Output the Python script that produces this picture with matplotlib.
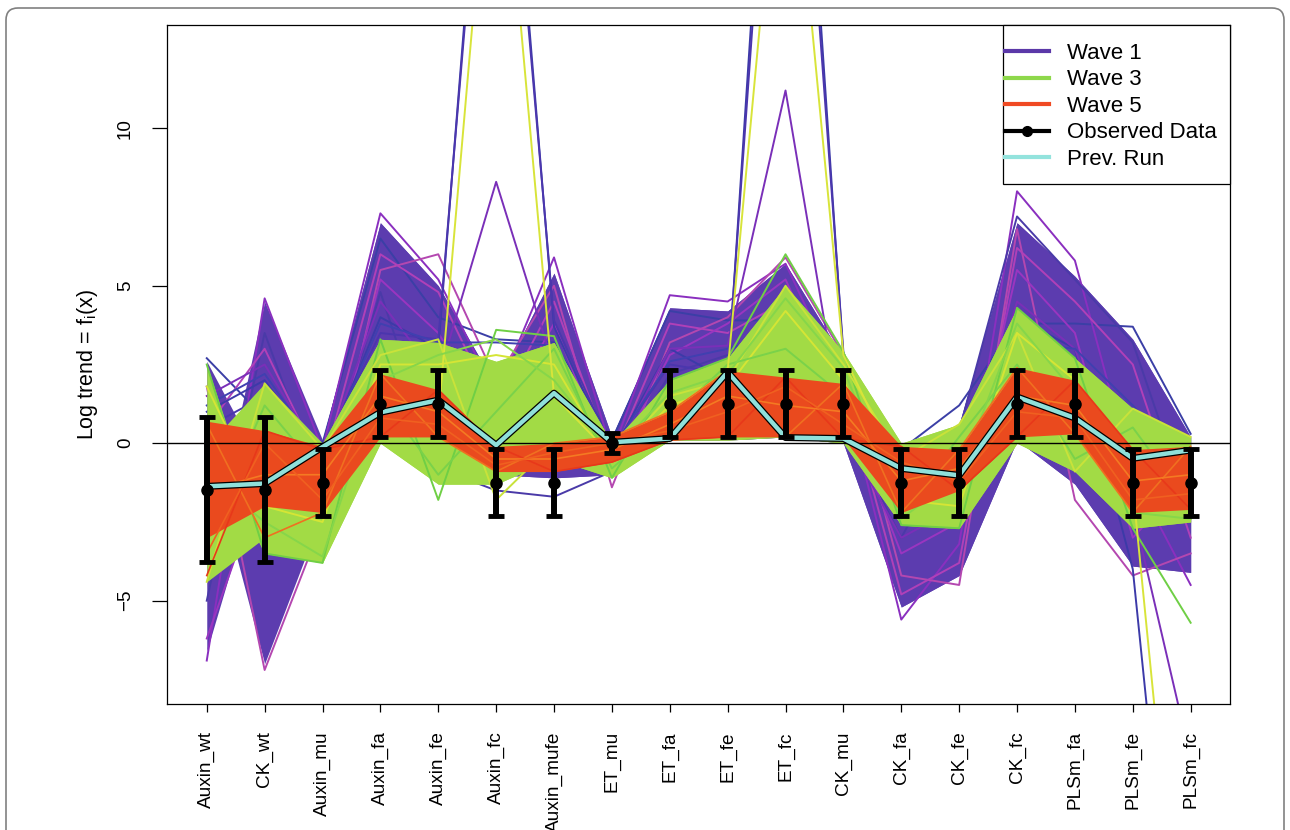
import numpy as np
import matplotlib
matplotlib.use('Agg')
import matplotlib.pyplot as plt
from matplotlib.lines import Line2D
from matplotlib.patches import FancyBboxPatch, Rectangle

plt.rcParams['font.family'] = ['Liberation Sans', 'DejaVu Sans']
plt.rcParams['mathtext.fontset'] = 'custom'
plt.rcParams['mathtext.rm'] = 'Liberation Sans'

# 输出类别
categories = ['Auxin_wt', 'CK_wt', 'Auxin_mu', 'Auxin_fa', 'Auxin_fe', 'Auxin_fc',
              'Auxin_mufe', 'ET_mu', 'ET_fa', 'ET_fe', 'ET_fc', 'CK_mu', 'CK_fa',
              'CK_fe', 'CK_fc', 'PLSm_fa', 'PLSm_fe', 'PLSm_fc']

# 观测数据及误差
obs_mean = [-1.47, -1.47, -1.25, 1.25, 1.25, -1.25, -1.25, 0.0, 1.25, 1.25,
            1.25, 1.25, -1.25, -1.25, 1.25, 1.25, -1.25, -1.25]
obs_err = [2.3, 2.3, 1.06, 1.06, 1.06, 1.06, 1.06, 0.32, 1.06, 1.06,
           1.06, 1.06, 1.06, 1.06, 1.06, 1.06, 1.06, 1.06]

# 上一次运行
prev_run = [-1.37, -1.28, -0.12, 0.98, 1.37, -0.06, 1.59, 0.03, 0.15, 2.26,
            0.18, 0.15, -0.8, -1.02, 1.47, 0.8, -0.48, -0.22]

# 各 wave 的密集区域（两组交叉的线束）
wave1_a_hi = [2.6, -0.85, 0.1, 7.0, 5.0, 1.8, 5.4, 0.2, 4.3, 4.2, 5.7, 2.7, -0.1, 0.6, 7.0, 5.3, 3.3, 0.2]
wave1_a_lo = [0.0, -7.0, -2.2, 0.1, -0.6, -1.0, -1.1, -1.0, 0.1, 0.1, 0.2, 0.0, -5.2, -4.2, 0.1, -1.3, -3.9, -4.1]
wave1_b_hi = [-3.9, 4.5, 0.1, 7.0, 5.0, 1.8, 5.4, 0.2, 4.3, 4.2, 5.7, 2.7, -0.1, 0.6, 7.0, 5.3, 3.3, 0.2]
wave1_b_lo = [-6.6, -0.4, -2.2, 0.1, -0.6, -1.0, -1.1, -1.0, 0.1, 0.1, 0.2, 0.0, -5.2, -4.2, 0.1, -1.3, -3.9, -4.1]

wave3_a_hi = [2.5, -3.1, 0.0, 3.3, 3.2, 2.6, 3.2, 0.0, 2.0, 2.7, 5.0, 2.9, 0.0, 0.6, 4.3, 2.7, 1.1, 0.2]
wave3_a_lo = [0.0, -3.5, -3.8, 0.0, -1.3, -1.3, -0.5, -1.1, 0.1, 0.1, 0.2, 0.0, -2.6, -2.7, 0.0, -0.9, -2.7, -2.5]
wave3_b_hi = [-0.1, 1.9, 0.0, 3.3, 3.2, 2.6, 3.2, 0.0, 2.0, 2.7, 5.0, 2.9, 0.0, 0.6, 4.3, 2.7, 1.1, 0.2]
wave3_b_lo = [-4.4, -3.0, -3.8, 0.0, -1.3, -1.3, -0.5, -1.1, 0.1, 0.1, 0.2, 0.0, -2.6, -2.7, 0.0, -0.9, -2.7, -2.5]

wave5_hi = [0.7, 0.4, -0.1, 2.2, 1.7, -0.1, 0.0, 0.2, 1.0, 2.3, 2.1, 1.9, -0.1, -0.2, 2.4, 2.0, -0.2, -0.1]
wave5_lo = [-3.0, -2.0, -2.2, 0.2, 0.2, -0.9, -0.9, -0.6, 0.1, 0.2, 0.2, 0.15, -2.2, -1.5, 0.2, 0.3, -2.2, -2.1]

# 单独可见的线
wave1_lines = [
    [2.7, 0.8, 0.0, 6.5, 4.0, 3.3, 3.2, 0.1, 4.2, 3.9, 3.9, 2.7, -0.2, 1.2, 3.8, 3.8, 3.7, 0.3],
    [-6.9, 4.6, -0.2, 7.3, 5.2, 1.5, 5.9, -0.3, 4.7, 4.5, 5.7, 1.8, -5.6, -3.2, 8.0, 5.8, -1.0, -4.5],
    [1.8, -7.2, -2.5, 5.5, 6.0, 2.0, 5.0, -1.4, 3.2, 4.0, 5.9, 2.8, -4.2, -4.5, 6.8, -1.8, -4.2, -3.5],
    [-5.0, 3.5, -1.5, 4.8, -0.8, -1.5, -1.7, -0.9, 2.2, 2.8, 3.0, 0.6, -3.0, 0.4, 7.2, 5.2, 3.2, -2.2],
    [0.5, 3.0, -0.8, 6.0, 4.8, 1.0, 4.5, -0.5, 3.8, 3.5, 4.5, 2.0, -4.8, -3.8, 6.2, 4.5, 2.5, -3.0],
    [-6.2, -1.0, -1.8, 5.2, 3.5, 0.5, 3.8, -0.8, 2.8, 3.8, 5.2, 1.2, -3.5, -2.5, 5.5, 3.5, -3.0, -1.0],
    [1.0, 2.0, -0.5, 4.0, 3.0, 26.0, 3.7, -0.3, 3.0, 2.0, 30.0, 2.7, -2.0, -1.5, 4.0, 3.0, -4.0, -22.0],
    [0.5, 1.5, -0.3, 3.5, 3.3, 25.0, 3.9, -0.2, 2.5, 2.2, 28.0, 2.9, -2.5, -2.0, 3.5, 2.5, 0.5, -1.5],
    [1.5, 2.5, -0.5, 4.5, 2.1, 8.3, 2.4, -0.5, 3.0, 3.1, 11.2, 0.3, -3.0, -2.0, 4.5, 3.0, -2.1, -10.0],
    [1.2, 2.2, -0.4, 3.8, 3.2, 3.2, 3.1, -0.2, 2.6, 3.0, 3.5, 1.6, -2.2, -1.8, 3.2, 3.0, 1.2, -0.8],
]
wave1_colors = ['#3b3fa6', '#8a2fbf', '#b447b0', '#4a3aa8', '#b040b8', '#9a35c0',
                '#3c3aa8', '#4b36ad', '#7a2fb8', '#4040b0']

wave3_lines = [
    [2.5, -3.5, -3.8, 3.3, -1.8, 3.6, 3.4, -1.1, 2.0, 2.7, 6.0, 2.9, -2.6, -2.7, 4.3, 2.7, -2.7, -5.7],
    [-4.4, 1.9, -0.2, 2.8, 3.3, -1.8, 0.0, -0.5, 1.5, 2.0, 5.0, 2.5, -0.5, 0.6, 3.5, -0.9, 1.1, 0.2],
    [1.8, -2.0, -2.5, 2.5, 2.5, 2.8, 2.5, -0.6, 1.2, 1.8, 4.2, 2.0, -1.8, -2.0, 3.5, 2.0, -1.8, -1.5],
    [-3.0, 1.2, -1.0, 1.5, -1.0, 1.0, 3.0, -0.8, 0.8, 2.5, 3.0, 1.5, -2.2, 0.2, 2.5, -0.5, 0.5, -2.0],
    [0.0, -1.0, -1.5, 1.5, 0.8, 22.0, 1.5, -0.4, 1.0, 2.3, 22.0, 2.8, -1.0, -1.5, 2.0, 1.0, -1.4, -20.0],
    [-1.0, -2.5, -3.6, 2.0, 2.8, 3.3, 2.0, -0.3, 1.6, 2.2, 4.6, 2.4, -2.4, -1.0, 3.8, 1.6, -2.2, -2.4],
]
wave3_colors = ['#6fcf45', '#c9e23a', '#d5e535', '#7ad24a', '#d8e43a', '#86d64a']

wave5_lines = [
    [0.6, -3.0, -2.2, 2.2, 0.2, -0.9, 0.0, 0.2, 1.0, 2.3, 0.2, 1.9, -2.2, -0.2, 2.4, 0.3, -2.2, -0.1],
    [-4.2, 0.4, -0.2, 0.2, 1.7, -0.1, -0.9, -0.6, 0.1, 0.2, 2.1, 0.15, -0.1, -1.5, 0.2, 2.0, -0.2, -2.1],
    [-1.5, -1.0, -1.0, 1.5, 1.0, -0.5, -0.5, -0.2, 0.6, 1.5, 1.2, 1.0, -1.2, -0.8, 1.5, 1.2, -1.2, -1.0],
    [-3.5, 0.0, -1.8, 0.8, 0.6, -0.7, -0.3, 0.0, 0.4, 1.0, 1.8, 0.6, -0.6, -1.2, 1.0, 0.8, -1.8, -1.6],
]
wave5_colors = ['#f07020', '#e8381a', '#f47a22', '#f06020']

x = np.arange(1, len(categories) + 1)

fig = plt.figure(figsize=(12.9, 8.3), dpi=100)
ax = fig.add_axes([0.1295, 0.1518, 0.8240, 0.8181])

# wave 1
for lo, hi in [(wave1_a_lo, wave1_a_hi), (wave1_b_lo, wave1_b_hi)]:
    ax.fill_between(x, lo, hi, color='#5c3caf', lw=0, zorder=1)
for vals, c in zip(wave1_lines, wave1_colors):
    ax.plot(x, vals, color=c, lw=1.4, zorder=1.2)
# wave 3
for lo, hi in [(wave3_a_lo, wave3_a_hi), (wave3_b_lo, wave3_b_hi)]:
    ax.fill_between(x, lo, hi, color='#a2db45', lw=0, zorder=2)
for vals, c in zip(wave3_lines, wave3_colors):
    ax.plot(x, vals, color=c, lw=1.4, zorder=2.2)
# wave 5
ax.fill_between(x, wave5_lo, wave5_hi, color='#ea4a1e', lw=0, zorder=3)
for vals, c in zip(wave5_lines, wave5_colors):
    ax.plot(x, vals, color=c, lw=1.2, zorder=3.2)

ax.axhline(0, color='black', lw=1.0, zorder=4)

# prev run
ax.plot(x, prev_run, color='black', lw=5.0, zorder=5, solid_capstyle='butt')
ax.plot(x, prev_run, color='#8fe0da', lw=3.2, zorder=5.1, solid_capstyle='butt')

# observed
ax.errorbar(x, obs_mean, yerr=obs_err, fmt='o', color='black', ms=8,
            elinewidth=4.3, capsize=5.5, capthick=3.5, zorder=6)

ax.set_xlim(0.314, 18.68)
ax.set_ylim(-8.28, 13.28)
ax.set_xticks(x)
ax.set_xticklabels(categories, rotation=90, fontsize=13.7)
ax.set_yticks([-5, 0, 5, 10])
ax.set_yticklabels(['\u22125', '0', '5', '10'], rotation=90, va='center', fontsize=13.5)
ax.tick_params(axis='y', length=10.8, width=0.9, pad=13)
ax.tick_params(axis='x', length=5.6, width=0.9, pad=14)
for s in ax.spines.values():
    s.set_linewidth(0.9)

ax.set_ylabel(r'Log trend = f$_\mathregular{i}$(x)', fontsize=15.5, labelpad=12)

handles = [
    Line2D([], [], color='#5b38a8', lw=3),
    Line2D([], [], color='#8ed84b', lw=3),
    Line2D([], [], color='#f04a23', lw=3),
    Line2D([], [], color='black', lw=3, marker='o', ms=7),
    Line2D([], [], color='#93e3dd', lw=3),
]
labels = ['Wave 1', 'Wave 3', 'Wave 5', 'Observed Data', 'Prev. Run']
leg = fig.legend(handles, labels, loc='upper left',
                 bbox_to_anchor=(1005 / 1290, 1 - 43 / 830), fontsize=16,
                 frameon=False, handlelength=2.0, handletextpad=0.8,
                 labelspacing=0.245, borderpad=0, borderaxespad=0)
leg.set_zorder(10)
fig.patches.append(Rectangle((1003 / 1290, 1 - 184 / 830), 227 / 1290, 159 / 830,
                             transform=fig.transFigure, fill=True, facecolor='white',
                             edgecolor='black', lw=0.9, zorder=9))

# 外框
frame = FancyBboxPatch((0.06, -0.5), 12.78, 8.72, boxstyle='round,pad=0,rounding_size=0.12',
                       transform=fig.dpi_scale_trans, fill=False, edgecolor='#808080', lw=1.2)
fig.patches.append(frame)

fig.savefig('out.png', dpi=100)
